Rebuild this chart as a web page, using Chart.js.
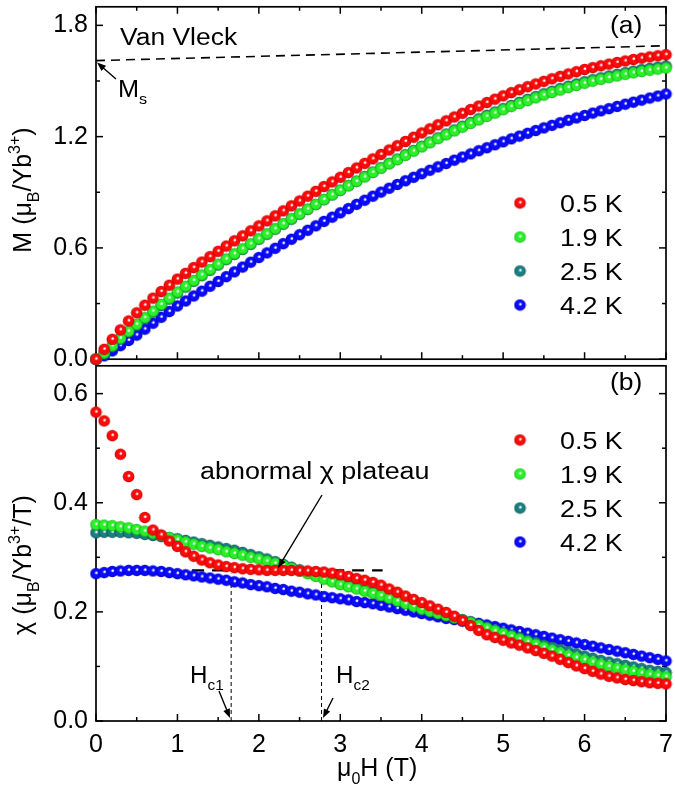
<!DOCTYPE html>
<html>
<head>
<meta charset="utf-8">
<script src="https://cdn.jsdelivr.net/npm/chart.js@4.4.1/dist/chart.umd.min.js"></script>
<style>
  html, body { margin: 0; padding: 0; background: #fff; }
  #wrap { position: relative; width: 675px; height: 790px; overflow: hidden; }
  canvas { position: absolute; left: 0; }
  #topCanvas { top: 0; }
  #bottomCanvas { top: 359px; }
</style>
</head>
<body>
<div id="wrap">
  <canvas id="topCanvas" width="675" height="366"></canvas>
  <canvas id="bottomCanvas" width="675" height="431"></canvas>
</div>
<script>
// ─── Data ─────────────────────────────────────────────────────
const tempLabels = ['0.5 K', '1.9 K', '2.5 K', '4.2 K'];

const field = [
  0.0, 0.1, 0.2, 0.3, 0.4, 0.5, 0.6, 0.7, 0.8, 0.9,
  1.0, 1.1, 1.2, 1.3, 1.4, 1.5, 1.6, 1.7, 1.8, 1.9,
  2.0, 2.1, 2.2, 2.3, 2.4, 2.5, 2.6, 2.7, 2.8, 2.9,
  3.0, 3.1, 3.2, 3.3, 3.4, 3.5, 3.6, 3.7, 3.8, 3.9,
  4.0, 4.1, 4.2, 4.3, 4.4, 4.5, 4.6, 4.7, 4.8, 4.9,
  5.0, 5.1, 5.2, 5.3, 5.4, 5.5, 5.6, 5.7, 5.8, 5.9,
  6.0, 6.1, 6.2, 6.3, 6.4, 6.5, 6.6, 6.7, 6.8, 6.9,
  7.0
];

// (a) magnetisation M, mu_B / Yb3+
const mRed = [
  0.000, 0.053, 0.107, 0.158, 0.206, 0.250, 0.291, 0.329, 0.365, 0.399,
  0.432, 0.463, 0.494, 0.524, 0.553, 0.582, 0.610, 0.638, 0.665, 0.692,
  0.719, 0.746, 0.773, 0.800, 0.827, 0.853, 0.879, 0.905, 0.931, 0.956,
  0.981, 1.006, 1.031, 1.056, 1.080, 1.104, 1.128, 1.151, 1.174, 1.197,
  1.220, 1.242, 1.264, 1.285, 1.306, 1.326, 1.346, 1.365, 1.384, 1.402,
  1.420, 1.437, 1.453, 1.469, 1.484, 1.498, 1.512, 1.525, 1.538, 1.550,
  1.562, 1.572, 1.582, 1.591, 1.600, 1.608, 1.616, 1.623, 1.630, 1.636,
  1.642
];
const mGreen = [
  0.000, 0.033, 0.072, 0.113, 0.151, 0.188, 0.224, 0.259, 0.295, 0.329,
  0.362, 0.393, 0.424, 0.454, 0.483, 0.512, 0.540, 0.568, 0.595, 0.622,
  0.649, 0.676, 0.703, 0.730, 0.757, 0.783, 0.809, 0.835, 0.861, 0.886,
  0.911, 0.935, 0.959, 0.983, 1.007, 1.030, 1.053, 1.076, 1.099, 1.122,
  1.145, 1.167, 1.189, 1.210, 1.231, 1.251, 1.271, 1.290, 1.309, 1.327,
  1.345, 1.362, 1.378, 1.394, 1.409, 1.424, 1.438, 1.451, 1.464, 1.476,
  1.488, 1.499, 1.509, 1.518, 1.527, 1.536, 1.544, 1.551, 1.558, 1.564,
  1.570
];
const mTeal = [
  0.000, 0.030, 0.068, 0.108, 0.146, 0.183, 0.219, 0.254, 0.290, 0.324,
  0.357, 0.389, 0.420, 0.450, 0.479, 0.508, 0.537, 0.565, 0.592, 0.619,
  0.647, 0.674, 0.701, 0.728, 0.755, 0.782, 0.808, 0.834, 0.860, 0.886,
  0.911, 0.936, 0.960, 0.985, 1.009, 1.032, 1.056, 1.079, 1.102, 1.125,
  1.148, 1.171, 1.193, 1.214, 1.236, 1.256, 1.276, 1.296, 1.315, 1.333,
  1.351, 1.368, 1.385, 1.401, 1.416, 1.431, 1.445, 1.459, 1.472, 1.484,
  1.496, 1.507, 1.517, 1.527, 1.536, 1.545, 1.553, 1.561, 1.568, 1.575,
  1.581
];
const mBlue = [
  0.000, 0.018, 0.045, 0.073, 0.101, 0.130, 0.162, 0.194, 0.226, 0.257,
  0.287, 0.314, 0.341, 0.367, 0.393, 0.419, 0.445, 0.471, 0.497, 0.523,
  0.548, 0.573, 0.598, 0.623, 0.647, 0.671, 0.695, 0.719, 0.743, 0.766,
  0.789, 0.812, 0.835, 0.857, 0.879, 0.901, 0.922, 0.942, 0.962, 0.981,
  1.000, 1.019, 1.037, 1.055, 1.073, 1.090, 1.107, 1.124, 1.140, 1.156,
  1.172, 1.188, 1.203, 1.218, 1.233, 1.247, 1.261, 1.275, 1.288, 1.301,
  1.314, 1.327, 1.339, 1.351, 1.363, 1.375, 1.386, 1.397, 1.408, 1.419,
  1.430
];

// (b) susceptibility chi, mu_B / Yb3+ / T
const chiRed = [
  0.566, 0.550, 0.523, 0.489, 0.448, 0.415, 0.373, 0.350, 0.341, 0.330,
  0.320, 0.310, 0.302, 0.295, 0.290, 0.286, 0.283, 0.281, 0.279, 0.278,
  0.277, 0.276, 0.276, 0.276, 0.276, 0.275, 0.275, 0.274, 0.273, 0.271,
  0.268, 0.265, 0.261, 0.258, 0.254, 0.249, 0.242, 0.236, 0.229, 0.223,
  0.217, 0.211, 0.205, 0.199, 0.192, 0.184, 0.175, 0.166, 0.158, 0.153,
  0.148, 0.143, 0.139, 0.134, 0.129, 0.124, 0.119, 0.113, 0.107, 0.101,
  0.096, 0.091, 0.086, 0.082, 0.079, 0.076, 0.074, 0.072, 0.070, 0.069,
  0.068
];
const chiGreen = [
  0.360, 0.359, 0.358, 0.356, 0.354, 0.351, 0.348, 0.344, 0.340, 0.336,
  0.332, 0.328, 0.324, 0.320, 0.317, 0.314, 0.310, 0.307, 0.304, 0.300,
  0.297, 0.293, 0.289, 0.285, 0.280, 0.275, 0.270, 0.265, 0.260, 0.255,
  0.250, 0.246, 0.242, 0.238, 0.234, 0.230, 0.225, 0.220, 0.215, 0.210,
  0.205, 0.201, 0.197, 0.193, 0.189, 0.185, 0.180, 0.175, 0.170, 0.165,
  0.160, 0.155, 0.150, 0.145, 0.140, 0.135, 0.130, 0.125, 0.120, 0.116,
  0.112, 0.108, 0.104, 0.100, 0.097, 0.094, 0.091, 0.088, 0.085, 0.083,
  0.081
];
const chiTeal = [
  0.345, 0.346, 0.346, 0.346, 0.345, 0.344, 0.342, 0.340, 0.338, 0.336,
  0.334, 0.331, 0.328, 0.325, 0.322, 0.319, 0.316, 0.313, 0.309, 0.305,
  0.301, 0.297, 0.292, 0.287, 0.282, 0.277, 0.272, 0.267, 0.262, 0.257,
  0.252, 0.248, 0.244, 0.240, 0.236, 0.231, 0.226, 0.221, 0.216, 0.211,
  0.206, 0.202, 0.198, 0.194, 0.190, 0.186, 0.182, 0.177, 0.172, 0.167,
  0.162, 0.158, 0.153, 0.148, 0.144, 0.139, 0.135, 0.131, 0.127, 0.123,
  0.119, 0.115, 0.111, 0.108, 0.105, 0.102, 0.099, 0.096, 0.093, 0.091,
  0.089
];
const chiBlue = [
  0.270, 0.272, 0.274, 0.275, 0.276, 0.276, 0.276, 0.275, 0.274, 0.272,
  0.270, 0.268, 0.266, 0.264, 0.262, 0.260, 0.258, 0.255, 0.253, 0.250,
  0.248, 0.246, 0.243, 0.241, 0.238, 0.236, 0.233, 0.231, 0.228, 0.226,
  0.224, 0.222, 0.219, 0.217, 0.215, 0.212, 0.209, 0.206, 0.203, 0.200,
  0.197, 0.194, 0.191, 0.188, 0.186, 0.183, 0.181, 0.179, 0.176, 0.173,
  0.170, 0.167, 0.164, 0.161, 0.158, 0.155, 0.152, 0.149, 0.146, 0.143,
  0.140, 0.137, 0.134, 0.131, 0.128, 0.125, 0.122, 0.119, 0.116, 0.113,
  0.110
];

// guide lines
const vanVleckX = [0, 7];
const vanVleckY = [1.61, 1.69];
const plateauX = [1.18, 3.52];
const plateauY = [0.276, 0.276];
const hc1 = 1.66;
const hc2 = 2.77;
const hcLineY = [0, 0.27];

// axis ticks
const xMajor = [0, 1, 2, 3, 4, 5, 6, 7];
const xMinor = [0.5, 1.5, 2.5, 3.5, 4.5, 5.5, 6.5];
const mMajor = [0, 0.6, 1.2, 1.8];
const mMinor = [0.3, 0.9, 1.5];
const chiMajor = [0, 0.2, 0.4, 0.6];
const chiMinor = [0.1, 0.3, 0.5];

// ─── Styling helpers ──────────────────────────────────────────
const FONT = "'Liberation Sans', Arial, sans-serif";
const colors = [
  { base: '#ff0a0a', dark: '#b00000' },
  { base: '#2af02a', dark: '#12a012' },
  { base: '#188080', dark: '#0a4a4a' },
  { base: '#0a0aff', dark: '#0000a8' }
];

function makeSphere(c, r) {
  const size = Math.ceil(r * 2) + 1;
  const cv = document.createElement('canvas');
  cv.width = size; cv.height = size;
  const g = cv.getContext('2d');
  const cx = size / 2, cy = size / 2;
  const grad = g.createRadialGradient(cx + 0.5, cy - 1, 0, cx, cy, r);
  grad.addColorStop(0, '#ffffff');
  grad.addColorStop(0.12, '#ffffff');
  grad.addColorStop(0.32, c.base);
  grad.addColorStop(0.78, c.base);
  grad.addColorStop(1, c.dark);
  g.fillStyle = grad;
  g.beginPath();
  g.arc(cx, cy, r, 0, Math.PI * 2);
  g.fill();
  return cv;
}
const spheres = colors.map(c => makeSphere(c, 5.8));

function toPoints(xs, ys) {
  return xs.map((x, i) => ({ x, y: ys[i] }));
}

function seriesSet(values, i) {
  return {
    label: tempLabels[i],
    data: toPoints(field, values),
    showLine: false,
    pointStyle: spheres[i],
    pointRadius: 5.8,
    clip: false
  };
}

function dashedSet(xs, ys, width, dash) {
  return {
    data: toPoints(xs, ys),
    showLine: true,
    borderColor: '#000',
    borderWidth: width,
    borderDash: dash,
    pointRadius: 0,
    fill: false
  };
}

// draw text with sub/superscripts; parts = [[text, '' | 'sub' | 'sup'], ...]
function richWidth(ctx, parts, size) {
  let w = 0;
  parts.forEach(([t, k]) => {
    ctx.font = `${k ? size * 0.64 : size}px ${FONT}`;
    w += ctx.measureText(t).width;
  });
  return w;
}
function drawRich(ctx, x, y, parts, size, opt = {}) {
  ctx.save();
  ctx.translate(x, y);
  if (opt.rotate) ctx.rotate(opt.rotate);
  ctx.scale(opt.sx || 1, 1);
  ctx.fillStyle = '#000';
  ctx.textBaseline = 'alphabetic';
  ctx.textAlign = 'left';
  let cx = opt.center ? -richWidth(ctx, parts, size) / 2 : 0;
  parts.forEach(([t, k]) => {
    ctx.font = `${k ? size * 0.64 : size}px ${FONT}`;
    const dy = k === 'sub' ? size * 0.3 : k === 'sup' ? -size * 0.45 : 0;
    ctx.fillText(t, cx, dy);
    cx += ctx.measureText(t).width;
  });
  ctx.restore();
}

function arrow(ctx, x1, y1, x2, y2) {
  const ang = Math.atan2(y2 - y1, x2 - x1);
  const hl = 9, hw = 3.5;
  ctx.save();
  ctx.strokeStyle = '#000';
  ctx.fillStyle = '#000';
  ctx.lineWidth = 1.4;
  ctx.beginPath();
  ctx.moveTo(x1, y1);
  ctx.lineTo(x2 - Math.cos(ang) * hl * 0.8, y2 - Math.sin(ang) * hl * 0.8);
  ctx.stroke();
  ctx.beginPath();
  ctx.moveTo(x2, y2);
  ctx.lineTo(x2 - Math.cos(ang) * hl + Math.sin(ang) * hw, y2 - Math.sin(ang) * hl - Math.cos(ang) * hw);
  ctx.lineTo(x2 - Math.cos(ang) * hl - Math.sin(ang) * hw, y2 - Math.sin(ang) * hl + Math.cos(ang) * hw);
  ctx.closePath();
  ctx.fill();
  ctx.restore();
}

function drawLegend(ctx, x, y0, step) {
  tempLabels.forEach((lab, i) => {
    const y = y0 + i * step;
    const s = spheres[i];
    ctx.drawImage(s, x - s.width / 2, y - s.height / 2);
    drawRich(ctx, x + 40, y + 8.5, [[lab, '']], 24, { sx: 1.12 });
  });
}

// ─── Frame plugin: box with inward ticks ──────────────────────
const framePlugin = {
  id: 'frame',
  beforeDatasetsDraw(chart, args, opts) {
    const { ctx, chartArea: a, scales } = chart;
    const tick = (x1, y1, x2, y2) => { ctx.beginPath(); ctx.moveTo(x1, y1); ctx.lineTo(x2, y2); ctx.stroke(); };
    ctx.save();
    ctx.strokeStyle = '#000';
    ctx.lineWidth = 1.7;
    ctx.strokeRect(a.left, a.top, a.right - a.left, a.bottom - a.top);
    ctx.lineWidth = 1.5;
    [[xMajor, 7], [xMinor, 4]].forEach(([vals, len]) => vals.forEach(v => {
      const x = scales.x.getPixelForValue(v);
      tick(x, a.bottom, x, a.bottom - len);
      if (opts.topTicks) tick(x, a.top, x, a.top + len);
    }));
    [[opts.yMajor, 7], [opts.yMinor, 4]].forEach(([vals, len]) => vals.forEach(v => {
      const y = scales.y.getPixelForValue(v);
      tick(a.left, y, a.left + len, y);
      tick(a.right, y, a.right - len, y);
    }));
    ctx.restore();
  }
};

function baseOptions(yMin, yMax, yTicks, xHeight, showX) {
  return {
    responsive: false,
    animation: false,
    events: [],
    layout: { padding: { left: 0, top: 3, right: 9, bottom: 0 } },
    plugins: { legend: { display: false }, tooltip: { enabled: false } },
    scales: {
      x: {
        type: 'linear', min: 0, max: 7,
        afterBuildTicks: s => { s.ticks = xMajor.map(v => ({ value: v })); },
        afterFit: s => { s.height = xHeight; s.paddingLeft = 0; s.paddingRight = 0; },
        grid: { display: false, drawTicks: false },
        border: { display: false },
        ticks: { display: showX, color: '#000', padding: 9, font: { family: FONT, size: 25 }, callback: v => String(v) }
      },
      y: {
        type: 'linear', min: yMin, max: yMax,
        afterBuildTicks: s => { s.ticks = yTicks.map(v => ({ value: v })); },
        afterFit: s => { s.width = 96; s.paddingTop = 0; s.paddingBottom = 0; },
        grid: { display: false, drawTicks: false },
        border: { display: false },
        ticks: { color: '#000', padding: 8, font: { family: FONT, size: 25 }, callback: v => v.toFixed(1) }
      }
    }
  };
}

// ─── (a) M(H) ─────────────────────────────────────────────────
const topNotes = {
  id: 'topNotes',
  afterDraw(chart) {
    const { ctx, scales } = chart;
    drawRich(ctx, 31, 190, [['M (μ', ''], ['B', 'sub'], ['/Yb', ''], ['3+', 'sup'], [')', '']], 25, { rotate: -Math.PI / 2, center: true });
    drawRich(ctx, 120, 45, [['Van Vleck', '']], 23, { sx: 1.15 });
    drawRich(ctx, 610, 33, [['(a)', '']], 23, { sx: 1.15 });
    drawRich(ctx, 118, 97, [['M', ''], ['s', 'sub']], 23, { sx: 1.1 });
    arrow(ctx, 116, 79, scales.x.getPixelForValue(vanVleckX[0]) + 1, scales.y.getPixelForValue(vanVleckY[0]) + 2);
    drawLegend(ctx, 520, 203, 34);
  }
};

const topOpts = baseOptions(0, 1.9, mMajor, 4, false);
topOpts.plugins.frame = { topTicks: true, yMajor: mMajor, yMinor: mMinor };

new Chart(document.getElementById('topCanvas'), {
  type: 'scatter',
  data: {
    datasets: [
      seriesSet(mRed, 0),
      seriesSet(mGreen, 1),
      seriesSet(mTeal, 2),
      seriesSet(mBlue, 3),
      dashedSet(vanVleckX, vanVleckY, 1.6, [9, 6])
    ]
  },
  options: topOpts,
  plugins: [framePlugin, topNotes]
});

// ─── (b) chi(H) ───────────────────────────────────────────────
const bottomNotes = {
  id: 'bottomNotes',
  afterDraw(chart) {
    const { ctx } = chart;
    drawRich(ctx, 31, 206, [['χ (μ', ''], ['B', 'sub'], ['/Yb', ''], ['3+', 'sup'], ['/T)', '']], 25, { rotate: -Math.PI / 2, center: true });
    drawRich(ctx, 337, 417, [['μ', ''], ['0', 'sub'], ['H (T)', '']], 25);
    drawRich(ctx, 610, 31, [['(b)', '']], 23, { sx: 1.15 });
    drawRich(ctx, 200, 120, [['abnormal χ plateau', '']], 23, { sx: 1.17 });
    arrow(ctx, 322, 136, 278, 209);
    drawRich(ctx, 190, 324, [['H', ''], ['c1', 'sub']], 23, { sx: 1.05 });
    arrow(ctx, 219, 332, 230, 359);
    drawRich(ctx, 336, 324, [['H', ''], ['c2', 'sub']], 23, { sx: 1.05 });
    arrow(ctx, 333, 339, 323, 359);
    drawLegend(ctx, 520, 81, 34);
  }
};

const bottomOpts = baseOptions(0, 0.651, chiMajor, 69, true);
bottomOpts.plugins.frame = { topTicks: false, yMajor: chiMajor, yMinor: chiMinor };

new Chart(document.getElementById('bottomCanvas'), {
  type: 'scatter',
  data: {
    datasets: [
      seriesSet(chiRed, 0),
      seriesSet(chiGreen, 1),
      seriesSet(chiTeal, 2),
      seriesSet(chiBlue, 3),
      dashedSet(plateauX, plateauY, 2.2, [12, 8]),
      dashedSet([hc1, hc1], hcLineY, 1, [4, 3]),
      dashedSet([hc2, hc2], hcLineY, 1, [4, 3])
    ]
  },
  options: bottomOpts,
  plugins: [framePlugin, bottomNotes]
});
</script>
</body>
</html>
